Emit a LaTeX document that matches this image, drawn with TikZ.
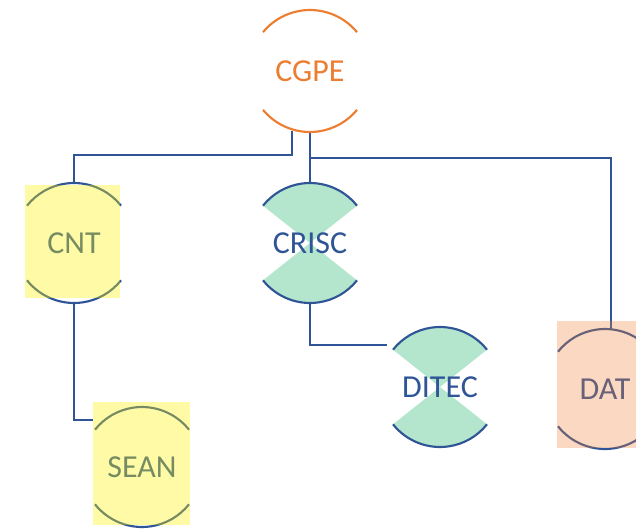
\documentclass[tikz,border=0pt]{standalone}
\usepackage{fontspec}
\setmainfont{Carlito}
\usepackage{tikz}

\definecolor{lineblue}{RGB}{47,85,151}
\definecolor{orng}{RGB}{237,125,49}
\definecolor{mint}{RGB}{179,230,204}

\pgfdeclarelayer{background}
\pgfdeclarelayer{foreground}
\pgfsetlayers{background,main,foreground}

\tikzset{
  unit/.style={circle, minimum size=90pt, inner sep=0pt, text=lineblue,
               font=\fontsize{24}{28}\selectfont},
  link/.style={draw=lineblue, line width=1.7pt},
  rim/.style={line width=1.6pt},
}

% top and bottom arcs of a node: #1 node, #2 colour, #3 radius
\newcommand{\capsof}[3]{%
  \pgfmathsetmacro{\capa}{acos(47/#3)}%
  \draw[rim, #2] (#1.center) ++(\capa:#3) arc[start angle=\capa, end angle=180-\capa, radius=#3];
  \draw[rim, #2] (#1.center) ++(180+\capa:#3) arc[start angle=180+\capa, end angle=360-\capa, radius=#3];
}
% filled sectors of the hourglass nodes
\newcommand{\sandof}[1]{%
  \pgfmathsetmacro{\capa}{acos(47/60)}%
  \fill[mint] (#1.center) -- ++(\capa:60) arc[start angle=\capa, end angle=180-\capa, radius=60] -- cycle;
  \fill[mint] (#1.center) -- ++(180+\capa:60) arc[start angle=180+\capa, end angle=360-\capa, radius=60] -- cycle;
}

\begin{document}
\begin{tikzpicture}[x=0.75pt, y=0.75pt]
  \useasboundingbox (0,0) rectangle (636,-529);
  \clip (0,0) rectangle (636,-529);

  % NODES
  \node[unit, text=orng] (cgpe) at (310,-71) {CGPE};
  \node[unit] (cnt) at (74,-243) {CNT};
  \node[unit] (crisc) at (310,-243) {CRISC};
  \node[unit] (ditec) at (440,-387) {DITEC};
  \node[unit] (dat) at (605,-389) {DAT};
  \node[unit] (sean) at (142,-467) {SEAN};
  \coordinate (ditecin) at (387,-345);
  \coordinate (seanin) at (93,-420);

  % LINES:
  \draw[link] ([xshift=-13.5pt]cgpe.south) -- ++(0,-24) -| (cnt.north);
  \draw[link] (cgpe.south) -- (crisc.north);
  \draw[link] ([yshift=-20.25pt]cgpe.south) -| ([xshift=4.5pt]dat.north);
  \draw[link] (crisc.south) |- (ditecin);
  \draw[link] (cnt.south) |- (seanin);

  % SHAPES
  \begin{pgfonlayer}{background}
    \sandof{crisc}
    \sandof{ditec}
  \end{pgfonlayer}
  \capsof{cgpe}{orng}{61}
  \capsof{cnt}{lineblue}{60}
  \capsof{crisc}{lineblue}{60}
  \capsof{ditec}{lineblue}{60}
  \capsof{dat}{lineblue}{60}
  \capsof{sean}{lineblue}{60}

  % boxes on top
  \begin{pgfonlayer}{foreground}
    \fill[yellow, fill opacity=0.35] (25,-185) rectangle (120,-298);
    \fill[yellow, fill opacity=0.35] (93,-402) rectangle (190,-525);
    \fill[orng, fill opacity=0.3] (557,-321) rectangle (636,-448);
  \end{pgfonlayer}
\end{tikzpicture}
\end{document}
